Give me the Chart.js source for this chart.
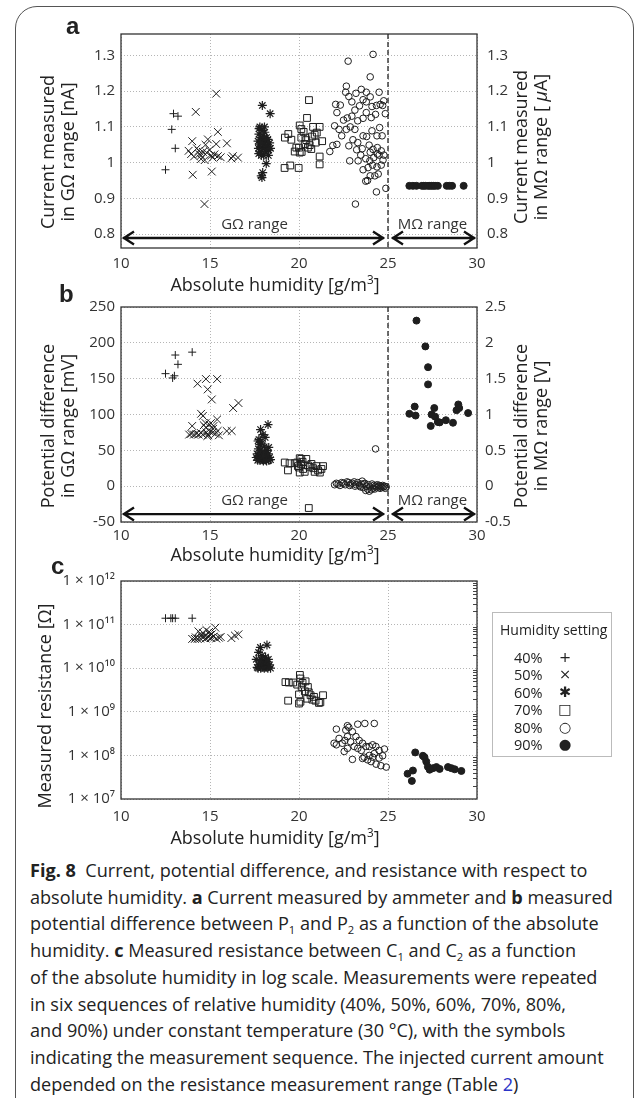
<!DOCTYPE html>
<html>
<head>
<meta charset="utf-8">
<script src="https://cdn.jsdelivr.net/npm/chart.js@4.4.1/dist/chart.umd.min.js"></script>
<style>
  body { margin: 0; background: #fff; }
  #fig { position: relative; width: 637px; height: 1098px; overflow: hidden;
         font-family: 'Open Sans', sans-serif; color: #222; }
  .frame { position: absolute; left: 15px; top: 6px; width: 619px; height: 1200px;
           border: 1.5px solid #555; border-radius: 22px; box-sizing: border-box; }
  canvas { position: absolute; left: 0; }
  .lbl { position: absolute; font-family: Arial, 'Liberation Sans', sans-serif; font-weight: bold; font-size: 24px; }
  .xt { position: absolute; transform: translate(-50%, -50%); white-space: nowrap; font-size: 18px; }
  .yt { position: absolute; transform: translate(-50%, -50%) rotate(-90deg); text-align: center;
        white-space: nowrap; font-size: 18px; line-height: 20px; }
  #legend { position: absolute; left: 492px; top: 612px; width: 120px; height: 145px;
            border: 1px solid #bbb; box-sizing: border-box; font-size: 14.5px; }
  #legend .ttl { position: absolute; left: 7px; top: 7px; white-space: nowrap; font-size: 14px; }
  #legend .row { position: absolute; left: 21px; width: 80px; height: 17px; line-height: 17px; }
  #legend .row span { position: absolute; left: 44px; width: 14px; text-align: center; font-family: 'DejaVu Sans', sans-serif; }
  #cap { position: absolute; left: 30px; top: 857px; font-size: 18.1px; line-height: 26.7px; white-space: nowrap; }
  #cap sub { font-size: 0.62em; line-height: 0; vertical-align: -0.35em; }
</style>
</head>
<body>
<div id="fig">
  <div class="frame"></div>

  <canvas id="chartA" width="637" height="290" style="top:0px"></canvas>
  <canvas id="chartB" width="637" height="272" style="top:290px"></canvas>
  <canvas id="chartC" width="637" height="268" style="top:562px"></canvas>

  <div class="lbl" style="left:66px; top:12px">a</div>
  <div class="lbl" style="left:59px; top:280px">b</div>
  <div class="lbl" style="left:51px; top:552px">c</div>

  <div class="xt" style="left:275px; top:283px">Absolute humidity [g/m<sup style="font-size:0.65em">3</sup>]</div>
  <div class="xt" style="left:275px; top:553px">Absolute humidity [g/m<sup style="font-size:0.65em">3</sup>]</div>
  <div class="xt" style="left:275px; top:836px">Absolute humidity [g/m<sup style="font-size:0.65em">3</sup>]</div>

  <div class="yt" style="left:57px; top:152px">Current measured<br>in GΩ range [nA]</div>
  <div class="yt" style="left:530px; top:147px">Current measured<br>in MΩ range [ <i>μ</i>A]</div>
  <div class="yt" style="left:57px; top:426px">Potential difference<br>in GΩ range [mV]</div>
  <div class="yt" style="left:530px; top:426px">Potential difference<br>in MΩ range [V]</div>
  <div class="yt" style="left:44px; top:706px">Measured resistance [Ω]</div>

  <div id="legend">
    <div class="ttl">Humidity setting</div>
  </div>

  <div id="cap">
    <div><b>Fig. 8</b>&nbsp; Current, potential difference, and resistance with respect to</div>
    <div>absolute humidity. <b>a</b> Current measured by ammeter and <b>b</b> measured</div>
    <div>potential difference between P<sub>1</sub> and P<sub>2</sub> as a function of the absolute</div>
    <div>humidity. <b>c</b> Measured resistance between C<sub>1</sub> and C<sub>2</sub> as a function</div>
    <div>of the absolute humidity in log scale. Measurements were repeated</div>
    <div>in six sequences of relative humidity (40%, 50%, 60%, 70%, 80%,</div>
    <div>and 90%) under constant temperature (30 °C), with the symbols</div>
    <div>indicating the measurement sequence. The injected current amount</div>
    <div>depended on the resistance measurement range (Table <span style="color:#2b35c8">2</span>)</div>
  </div>
</div>

<script>
// humidity settings (series names)
const settings = ['40%', '50%', '60%', '70%', '80%', '90%'];
const legendSymbols = ['+', '×', '✱', '□', '○', '●'];

// shared x axis
const xTicks = [10, 15, 20, 25, 30];

// panel a : current [nA] (GΩ range) and [μA] (MΩ range, 90%)
const aTicks = [0.8, 0.9, 1, 1.1, 1.2, 1.3];
const a40 = [[12.5,0.98],[12.85,1.093],[12.95,1.137],[13.05,1.04],[13.2,1.13]];
const a50 = [[14.2,1.142],[15.35,1.193],[15.44,1.086],[14.03,0.966],[14.69,0.884],[15.1,0.975],[15.95,1.054],
  [13.8,1.033],[14.0,1.06],[14.26,1.04],[14.4,1.024],[14.6,1.03],[14.75,1.05],[14.88,1.065],[14.97,1.035],
  [15.07,1.02],[15.25,1.023],[15.35,1.052],[15.44,1.018],[14.7,1.007],[14.5,1.01],[14.1,1.017],[16.28,1.018],
  [16.2,1.012],[16.57,1.014],[15.6,1.015],[15.15,1.014],[14.82,1.028],[14.37,1.033],[13.94,1.024],[14.5,1.02]];
const a60 = [[17.7,1.06],[17.72,1.04],[17.75,1.08],[17.78,1.05],[17.8,1.1],[17.82,1.03],[17.85,1.07],[17.88,1.02],
  [17.9,1.06],[17.92,1.09],[17.95,1.04],[17.98,1.075],[18.0,1.05],[18.02,1.02],[18.05,1.065],[18.08,1.085],
  [18.1,1.04],[18.12,1.06],[18.15,1.03],[18.18,1.07],[18.2,1.05],[18.22,1.045],[18.25,1.065],[18.3,1.035],
  [18.35,1.055],[18.4,1.04],[17.76,1.095],[17.84,1.055],[18.06,1.1],[17.94,1.16],[18.38,1.137],[18.16,0.997],
  [17.88,0.963],[17.96,0.972],[17.92,0.958],[17.74,1.025],[18.28,1.02]];
const a70 = [[20.56,1.175],[20.45,1.125],[19.19,0.985],[19.51,0.992],[19.98,0.985],[21.16,0.995],[21.16,1.017],
  [21.3,1.06],[21.16,1.1],[20.79,1.1],[20.88,1.078],[20.04,1.104],[20.13,1.094],[20.26,1.086],[19.21,1.07],
  [19.4,1.08],[19.57,1.064],[19.76,1.031],[20.0,1.042],[20.15,1.03],[20.32,1.052],[20.41,1.063],[20.5,1.042],
  [20.6,1.049],[20.73,1.073],[20.94,1.056],[21.0,1.084],[20.13,1.07],[19.85,1.042],[20.36,1.07],[20.04,1.028],[20.69,1.038]];
const a80 = [[24.16,1.303],[22.76,1.284],[24.0,1.24],[23.17,0.884],[24.88,0.928],[24.35,0.918],[21.73,1.031],
  [22.0,1.103],[22.13,1.14],[22.06,1.163],[22.32,1.161],[22.66,1.214],[22.62,1.197],[22.8,1.185],[22.97,1.17],
  [23.2,1.194],[23.5,1.205],[23.78,1.197],[24.0,1.184],[24.5,1.197],[24.76,1.173],[24.56,1.163],[24.35,1.16],
  [24.1,1.157],[23.78,1.17],[23.6,1.176],[23.4,1.159],[23.14,1.147],[22.97,1.13],[22.71,1.125],[22.5,1.119],
  [22.25,1.093],[22.4,1.075],[22.66,1.093],[22.88,1.1],[23.14,1.093],[23.3,1.117],[23.6,1.124],[23.78,1.14],
  [24.06,1.126],[24.3,1.135],[24.53,1.098],[24.67,1.075],[24.38,1.075],[24.1,1.089],[23.8,1.073],[23.6,1.075],
  [23.3,1.056],[23.03,1.064],[22.8,1.047],[22.13,1.051],[21.9,1.048],[23.94,1.049],[24.16,1.037],[24.4,1.042],
  [24.62,1.033],[24.77,1.021],[24.5,1.021],[24.2,1.014],[23.98,1.005],[23.75,1.011],[23.47,1.021],[23.32,1.005],
  [22.85,1.005],[23.6,0.98],[23.88,0.986],[24.13,0.993],[24.38,0.988],[24.62,0.993],[24.72,1.007],[24.0,0.963],
  [24.26,0.963],[24.45,0.968],[23.75,0.948],[23.85,0.95],[24.4,1.024],[24.0,1.029],[23.55,1.039],[23.24,1.036],
  [24.85,1.137],[24.7,1.16]];
const a90 = [[26.2,0.935],[26.4,0.935],[26.6,0.935],[26.9,0.935],[27.0,0.935],[27.1,0.935],[27.25,0.935],[27.35,0.935],
  [27.45,0.935],[27.55,0.935],[27.65,0.935],[27.8,0.935],[28.3,0.935],[28.45,0.935],[28.6,0.935],[29.25,0.935]];

// panel b : potential difference [mV] (GΩ range) and [V] (MΩ range, 90%)
const bTicks = [-50, 0, 50, 100, 150, 200, 250];
const bTicksRight = [-0.5, 0, 0.5, 1, 1.5, 2, 2.5];
const b40 = [[12.5,157],[12.9,151],[13.0,154],[13.05,183],[13.2,170],[14.0,187]];
const b50 = [[14.3,143],[14.77,149.5],[14.87,135],[15.1,121],[15.4,149.5],[16.3,109],[16.6,116],[14.5,101],[14.6,98],
  [14.0,84],[15.4,93],[14.75,88],[14.97,86],[15.2,84],[14.77,82],[15.17,80],[15.43,77],[13.83,72],[13.95,73],
  [14.1,72],[14.23,73],[14.36,72],[14.5,74],[14.6,72],[14.8,75],[14.9,71],[15.0,76],[15.15,75],[15.3,73],
  [15.5,71],[15.94,77],[16.22,77],[14.65,85],[15.05,88],[14.85,70]];
const b60 = [[17.84,79],[17.97,72],[18.1,68],[18.26,86],[17.7,63],[17.8,58],[17.75,65],[17.9,60],[18.05,55],[18.3,54],
  [18.2,50],[17.65,45],[17.7,42],[17.75,38],[17.8,36],[17.85,40],[17.9,44],[17.95,37],[18.0,35],[18.05,41],[18.1,38],
  [18.15,36],[18.2,43],[18.25,39],[18.3,36],[18.35,40],[18.4,37],[17.6,40],[17.68,36],[17.92,48],[18.12,46],
  [18.28,45],[17.82,50],[18.0,42],[18.18,35],[17.72,52]];
const b70 = [[19.2,33],[19.47,32],[19.76,32],[19.38,22],[20.04,39],[20.13,38],[19.94,28],[20.04,19],[20.23,24],[20.41,38],
  [20.5,29],[20.7,31],[20.8,25],[20.98,28],[21.07,22],[21.26,24],[21.35,28],[21.17,19],[20.88,20],[20.32,20],
  [20.1,31],[20.2,34],[20.6,27],[20.0,26],[19.9,33],[20.55,-30.5]];
const b80 = [[22.0,2],[22.1,4],[22.2,3],[22.3,1],[22.4,5],[22.5,4],[22.6,2],[22.7,6],[22.8,5],[22.9,3],[23.0,4],[23.1,6],
  [23.2,2],[23.3,5],[23.4,1],[23.5,3],[23.6,-2],[23.7,4],[23.75,-6],[23.8,0],[23.85,-4],[23.9,2],[23.95,-7],[24.0,-1],
  [24.05,-5],[24.1,3],[24.15,-3],[24.2,1],[24.25,-4],[24.3,0],[24.35,-2],[24.4,2],[24.45,-1],[24.5,1],[24.55,-3],
  [24.6,0],[24.65,-2],[24.7,1],[24.75,-1],[24.8,0],[24.85,-3],[24.9,-1],[23.55,7],[23.65,3],[22.85,1],[23.15,0],
  [23.45,-1],[24.3,52]];
const b90 = [[26.6,2.31],[27.1,1.95],[27.25,1.66],[27.25,1.42],[26.2,1.01],[26.5,1.11],[26.55,0.985],[27.6,1.09],
  [27.45,1.0],[27.65,0.97],[27.4,0.84],[27.8,0.895],[27.9,0.89],[28.25,0.92],[28.65,0.885],[28.85,1.06],[28.95,1.14],
  [29.0,1.09],[29.5,1.02]];

// panel c : measured resistance [Ω], log scale
const cTicks = [1e7, 1e8, 1e9, 1e10, 1e11, 1e12];
const cTickLabels = ['1 × 10⁷', '1 × 10⁸', '1 × 10⁹', '1 × 10¹⁰', '1 × 10¹¹', '1 × 10¹²'];
const c40 = [[12.5,1.4e11],[12.8,1.4e11],[12.9,1.4e11],[13.05,1.4e11],[14.0,1.4e11]];
const c50 = [[14.0,4.7e10],[14.15,4.7e10],[14.3,4.7e10],[14.45,4.8e10],[14.6,5e10],[14.75,4.8e10],[14.9,5.2e10],
  [15.05,4.9e10],[15.2,5.3e10],[15.35,4.8e10],[15.5,5e10],[14.35,7e10],[14.6,6.5e10],[14.8,7.5e10],[14.95,6.8e10],
  [15.1,6e10],[15.3,8.5e10],[14.5,5.6e10],[15.0,5.8e10],[14.7,5.5e10],[16.2,4.9e10],[16.4,5.6e10],[16.6,6e10],
  [15.6,5.2e10],[14.2,5.1e10]];
const c60 = [[18.2,3.4e10],[17.83,3e10],[17.73,2.3e10],[17.92,1.95e10],[18.05,1.5e10],[17.6,1.6e10],[17.65,1.05e10],
  [17.7,1.0e10],[17.75,1.2e10],[17.8,1.1e10],[17.85,1.0e10],[17.9,1.3e10],[17.95,1.05e10],[18.0,1.15e10],[18.05,1.0e10],
  [18.1,1.25e10],[18.15,1.05e10],[18.2,1.4e10],[18.25,1.0e10],[18.3,1.1e10],[18.35,1.2e10],[18.4,1.0e10],
  [17.88,1.6e10],[18.12,1.8e10],[18.28,1.6e10],[17.78,1.4e10]];
const c70 = [[19.24,4.8e9],[19.43,4.7e9],[19.67,4.7e9],[19.9,4.2e9],[20.05,7e9],[20.08,5.8e9],[20.2,4.6e9],[20.37,5e9],
  [20.5,3.7e9],[20.15,3.7e9],[20.0,2.5e9],[20.08,1.7e9],[20.0,1.55e9],[19.39,1.8e9],[20.46,2e9],[20.65,2.4e9],
  [20.55,2.8e9],[20.84,2.2e9],[20.93,1.8e9],[21.12,1.6e9],[21.2,1.65e9],[21.35,2.4e9],[20.75,1.9e9],[20.33,2.95e9]];
const c80 = [[22.1,4e8],[22.72,4.8e8],[22.8,4.4e8],[23.3,5.2e8],[23.7,5.4e8],[24.23,5.4e8],[22.63,3.8e8],[23.0,3.5e8],
  [23.2,2.7e8],[22.72,2.7e8],[22.58,2.2e8],[22.25,2.45e8],[21.97,1.9e8],[22.1,1.75e8],[22.43,1.9e8],[22.9,2.05e8],
  [23.1,1.6e8],[23.38,2.2e8],[23.57,1.9e8],[23.76,1.6e8],[23.95,1.6e8],[24.14,1.75e8],[24.32,1.6e8],[24.5,1.3e8],
  [24.8,1.4e8],[24.23,1.1e8],[23.95,1.0e8],[23.66,9.1e7],[23.57,8.5e7],[23.86,7.9e7],[24.05,7.2e7],[24.33,6.3e7],
  [24.6,5.8e7],[24.9,5.4e7],[23.0,8.1e7],[23.3,1.45e8],[23.5,1.3e8],[24.7,9.8e7],[24.5,8.7e7],[22.72,1.45e8],
  [22.54,1.23e8],[24.14,9.1e7]];
const c90 = [[26.1,3.8e7],[26.4,4.5e7],[26.34,2.6e7],[26.53,1.17e8],[26.96,9.8e7],[27.05,9.1e7],[27.15,7.2e7],
  [27.24,5.5e7],[27.34,4.7e7],[27.53,5.1e7],[27.72,5.4e7],[27.9,4.9e7],[28.37,5.4e7],[28.56,5.1e7],[28.75,4.8e7],
  [29.12,4.4e7]];

// marker look for each humidity setting
const INK = '#1e1e1e';
const markerStyles = [
  { pointStyle: 'cross',    pointRadius: 4,   borderWidth: 1,   backgroundColor: 'rgba(0,0,0,0)' },
  { pointStyle: 'crossRot', pointRadius: 5.5, borderWidth: 1,   backgroundColor: 'rgba(0,0,0,0)' },
  { pointStyle: 'star',     pointRadius: 4.5, borderWidth: 1.2, backgroundColor: 'rgba(0,0,0,0)' },
  { pointStyle: 'rect',     pointRadius: 4.8, borderWidth: 1,   backgroundColor: 'rgba(0,0,0,0)' },
  { pointStyle: 'circle',   pointRadius: 3.3, borderWidth: 1,   backgroundColor: 'rgba(0,0,0,0)' },
  { pointStyle: 'circle',   pointRadius: 3.5, borderWidth: 1,   backgroundColor: INK }
];

// legend (html)
const legendEl = document.getElementById('legend');
settings.forEach((s, i) => {
  const row = document.createElement('div');
  row.className = 'row';
  row.style.top = (36 + i * 17.4) + 'px';
  row.textContent = s;
  const sym = document.createElement('span');
  sym.textContent = legendSymbols[i];
  row.appendChild(sym);
  legendEl.appendChild(row);
});

// frame, split line, range arrows, minor ticks
const decoPlugin = {
  id: 'deco',
  afterDraw(chart, args, opts) {
    const { ctx, chartArea: a, scales } = chart;
    ctx.save();
    if (opts.split != null) {
      const xs = scales.x.getPixelForValue(opts.split);
      ctx.strokeStyle = '#222';
      ctx.lineWidth = 1.3;
      ctx.setLineDash([5, 3]);
      ctx.beginPath(); ctx.moveTo(xs, a.top); ctx.lineTo(xs, a.bottom); ctx.stroke();
      ctx.setLineDash([]);

      const y = scales.y.getPixelForValue(opts.arrowY);
      const x0 = scales.x.getPixelForValue(scales.x.min);
      const x1 = scales.x.getPixelForValue(scales.x.max);
      ctx.lineWidth = 2.4;
      drawArrow(ctx, x0 + 2, xs - 4, y);
      drawArrow(ctx, xs + 4, x1 - 2, y);

      ctx.fillStyle = '#333';
      ctx.font = '15px "Open Sans"';
      ctx.textAlign = 'center';
      ctx.textBaseline = 'middle';
      ctx.fillText('GΩ range', (x0 + xs) / 2, y - 13);
      ctx.fillText('MΩ range', (xs + x1) / 2, y - 13);
    }
    if (opts.minor) {
      ctx.strokeStyle = '#444';
      ctx.lineWidth = 1;
      for (let d = 0; d < cTicks.length - 1; d++) {
        for (let m = 2; m <= 9; m++) {
          const yy = Math.round(scales.y.getPixelForValue(m * cTicks[d])) + 0.5;
          ctx.beginPath(); ctx.moveTo(a.right - 4, yy); ctx.lineTo(a.right, yy); ctx.stroke();
        }
      }
    }
    ctx.strokeStyle = '#333';
    ctx.lineWidth = 1.3;
    ctx.strokeRect(a.left, a.top, a.right - a.left, a.bottom - a.top);
    ctx.restore();
  }
};

function drawArrow(ctx, xa, xb, y) {
  const hl = 11, hw = 6.5;
  ctx.strokeStyle = '#111';
  ctx.beginPath();
  ctx.moveTo(xa, y); ctx.lineTo(xb, y);
  ctx.moveTo(xa + hl, y - hw); ctx.lineTo(xa + 1, y); ctx.lineTo(xa + hl, y + hw);
  ctx.moveTo(xb - hl, y - hw); ctx.lineTo(xb - 1, y); ctx.lineTo(xb - hl, y + hw);
  ctx.stroke();
}

const tickFont = { family: 'Open Sans', size: 15 };
const gridStyle = { color: '#b5b5b5', lineWidth: 1, drawTicks: false };
const dotted = { display: false, dash: [1, 2] };

function makeDatasets(series, axisOf) {
  return series.map((data, i) => Object.assign({
    label: settings[i],
    data: data,
    yAxisID: axisOf ? axisOf(i) : 'y',
    borderColor: INK
  }, markerStyles[i]));
}

function xScale(pad, height) {
  return {
    type: 'linear', min: 10, max: 30,
    afterBuildTicks: s => { s.ticks = xTicks.map(v => ({ value: v })); },
    afterFit: s => { s.height = height; },
    ticks: { font: tickFont, color: '#333', padding: pad },
    grid: gridStyle, border: dotted
  };
}

function linearY(min, max, ticks, position, width, pad, showGrid) {
  return {
    type: 'linear', position: position, min: min, max: max,
    afterBuildTicks: s => { s.ticks = ticks.map(v => ({ value: v })); },
    afterFit: s => { s.width = width; },
    ticks: { font: tickFont, color: '#333', padding: pad, callback: v => String(v) },
    grid: Object.assign({ drawOnChartArea: showGrid }, gridStyle),
    border: dotted
  };
}

function baseOptions(top, rightPad, scales, deco) {
  return {
    responsive: false,
    animation: false,
    layout: { padding: { top: top, left: 0, right: rightPad, bottom: 0 } },
    plugins: { legend: { display: false }, tooltip: { enabled: false }, deco: deco },
    scales: scales
  };
}

// panel a
new Chart(document.getElementById('chartA'), {
  type: 'scatter',
  data: { datasets: makeDatasets([a40, a50, a60, a70, a80, a90], i => i === 5 ? 'y2' : 'y') },
  options: baseOptions(34, 0, {
    x: xScale(7, 42),
    y: linearY(0.761, 1.36, aTicks, 'left', 121, 6, true),
    y2: linearY(0.761, 1.36, aTicks, 'right', 160, 10, false)
  }, { split: 25, arrowY: 0.789 }),
  plugins: [decoPlugin]
});

// panel b
new Chart(document.getElementById('chartB'), {
  type: 'scatter',
  data: { datasets: makeDatasets([b40, b50, b60, b70, b80, b90], i => i === 5 ? 'y2' : 'y') },
  options: baseOptions(17, 0, {
    x: xScale(5, 40),
    y: linearY(-50, 250, bTicks, 'left', 121, 6, true),
    y2: linearY(-0.5, 2.5, bTicksRight, 'right', 160, 8, false)
  }, { split: 25, arrowY: -39 }),
  plugins: [decoPlugin]
});

// panel c
new Chart(document.getElementById('chartC'), {
  type: 'scatter',
  data: { datasets: makeDatasets([c40, c50, c60, c70, c80, c90]) },
  options: baseOptions(19, 160, {
    x: xScale(9, 31),
    y: {
      type: 'logarithmic', min: 1e7, max: 1e12,
      afterBuildTicks: s => { s.ticks = cTicks.map(v => ({ value: v })); },
      afterFit: s => { s.width = 121; },
      ticks: { font: tickFont, color: '#333', padding: 6, callback: v => cTickLabels[cTicks.indexOf(v)] },
      grid: gridStyle, border: dotted
    }
  }, { minor: true }),
  plugins: [decoPlugin]
});
</script>
</body>
</html>
